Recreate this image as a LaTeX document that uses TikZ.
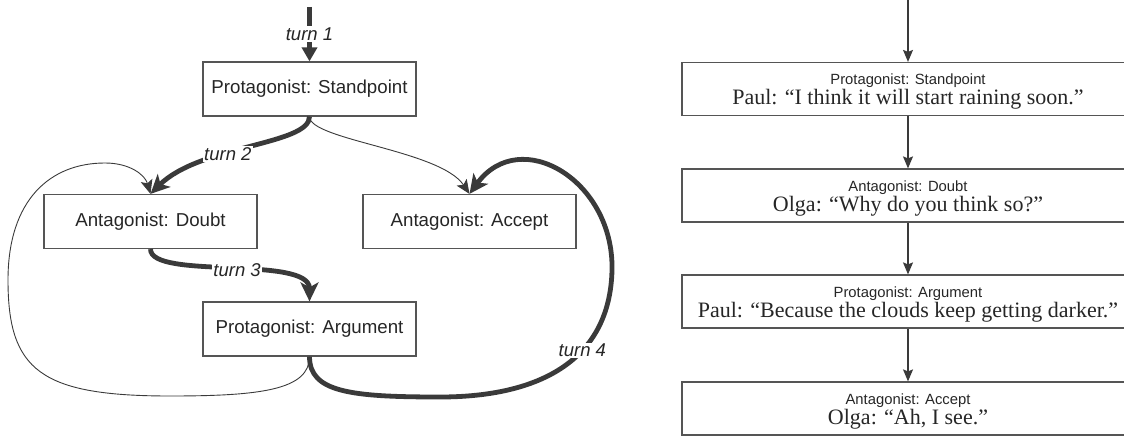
\documentclass[tikz,border=0pt]{standalone}
\usepackage{fontspec}
\setmainfont{Liberation Serif}
\setsansfont{Liberation Sans}
\usetikzlibrary{arrows.meta}
\definecolor{ln}{HTML}{3A3A3A}
\definecolor{bx}{HTML}{555555}
\definecolor{tx}{HTML}{262626}
\newcommand{\rlabel}[1]{{\fontsize{14.8}{16}\selectfont\sffamily\rule{0pt}{16pt}#1}}
\begin{document}
\begin{tikzpicture}[x=1pt,y=-1pt,
  lbox/.style={draw=bx, line width=1.2pt, minimum width=213pt, minimum height=54pt, inner sep=0pt,
    font=\fontsize{18.7}{22}\selectfont\sffamily, text=tx},
  rbox/.style={draw=bx, line width=1.2pt, minimum width=452pt, minimum height=53pt, inner sep=0pt,
    align=center, text=tx, font=\fontsize{22}{24}\selectfont\rmfamily},
  bigarrow/.style={draw=ln, line width=4.8pt, -{Stealth[length=19pt,width=18pt,inset=5pt]}},
  firstarrow/.style={draw=ln, line width=5.2pt, -{Triangle[length=14pt,width=15pt]}},
  thinconn/.style={draw=ln, line width=0.9pt, -{Stealth[length=14pt,width=12pt,inset=3pt]}},
  turnlabel/.style={fill=white, inner sep=1.5pt, font=\fontsize{18.5}{20}\selectfont\sffamily\itshape, text=tx},
  rarrow/.style={draw=ln, line width=1.2pt, -{Stealth[length=12pt,width=10pt,inset=2pt]}},
]
\useasboundingbox (0,0) rectangle (1124,436);
\clip (0,0) rectangle (1124,436);

% left diagram
\node[lbox] (std) at (309.5,89) {Protagonist: Standpoint};
\node[lbox] (dbt) at (150.5,221.5) {Antagonist: Doubt};
\node[lbox] (acc) at (469.5,221.5) {Antagonist: Accept};
\node[lbox] (arg) at (309.5,329) {Protagonist: Argument};
\coordinate (start) at (309.5,7);

\draw[thinconn] (std.south) .. controls (309.5,140) and (440,150) .. (acc.north);
\draw[thinconn] (arg.south) .. controls (309.5,390) and (260,396) .. (170,396)
  .. controls (40,396) and (8,370) .. (8,280)
  .. controls (8,200) and (50,163) .. (105,163)
  .. controls (130,163) and (145,175) .. (dbt.north);

\draw[firstarrow] (start) -- (std.north) node[turnlabel,pos=0.5] {turn 1};
\draw[bigarrow] (std.south) .. controls (309.5,145) and (200,145) .. (dbt.north) node[turnlabel,pos=0.6] {turn 2};
\draw[bigarrow] (dbt.south) .. controls (150.5,280) and (309.5,255) .. (arg.north) node[turnlabel,pos=0.53] {turn 3};
\draw[bigarrow] (arg.south) .. controls (309.5,392) and (350,397) .. (440,397)
  .. controls (540,397) and (610,360) .. (612,270) node[turnlabel,pos=0.62] {turn 4}
  .. controls (614,180) and (520,125) .. (acc.north);

% right diagram
\node[rbox] (r1) at (908,89) {\rlabel{Protagonist: Standpoint}\\[-4pt]Paul: “I think it will start raining soon.”};
\node[rbox] (r2) at (908,195.5) {\rlabel{Antagonist: Doubt}\\[-4pt]Olga: “Why do you think so?”};
\node[rbox] (r3) at (908,301.5) {\rlabel{Protagonist: Argument}\\[-4pt]Paul: “Because the clouds keep getting darker.”};
\node[rbox] (r4) at (908,408.5) {\rlabel{Antagonist: Accept}\\[-4pt]Olga: “Ah, I see.”};
\coordinate (rtop) at (908,-5);
\draw[rarrow] (rtop) -- (r1.north);
\draw[rarrow] (r1.south) -- (r2.north);
\draw[rarrow] (r2.south) -- (r3.north);
\draw[rarrow] (r3.south) -- (r4.north);
\end{tikzpicture}
\end{document}
